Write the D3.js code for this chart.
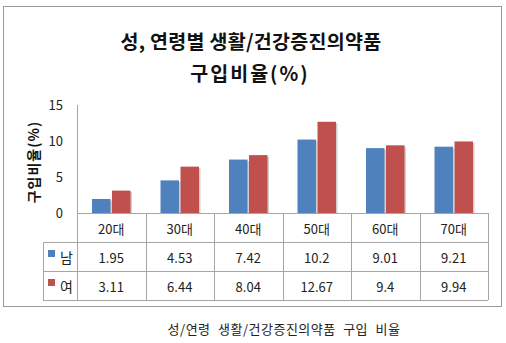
<!DOCTYPE html>
<html><head><meta charset="utf-8">
<script src="https://cdn.jsdelivr.net/npm/d3@7"></script>
<style>body{margin:0;background:#fff}svg{display:block}text{font-family:"Noto Sans CJK KR","Noto Sans",sans-serif}</style>
</head><body><svg id="c" width="506" height="343"></svg>
<script>
const categories = ["20대","30대","40대","50대","60대","70대"];
const seriesNames = ["남","여"];
const male = [1.95,4.53,7.42,10.2,9.01,9.21];
const female = [3.11,6.44,8.04,12.67,9.4,9.94];
const maleLabels = ["1.95","4.53","7.42","10.2","9.01","9.21"];
const femaleLabels = ["3.11","6.44","8.04","12.67","9.4","9.94"];
const yTicks = [0,5,10,15];
const colors = ["#4F81BD","#C0504D"];
const titleLines = ["성, 연령별 생활/건강증진의약품","구입비율(%)"];
const yTitle = "구입비율(%)";
const caption = "성/연령 생활/건강증진의약품 구입 비율";

const svg = d3.select("#c");
const grid = "#a6a6a6";
svg.append("rect").attr("x",3.5).attr("y",6.5).attr("width",498).attr("height",300)
  .attr("fill","#fff").attr("stroke","#9a9a9a").attr("stroke-width",1);

svg.selectAll(".title").data(titleLines).join("text")
  .attr("x",(d,i)=>i===0?251:250).attr("y",(d,i)=>40+i*32).attr("text-anchor","middle").attr("dominant-baseline","central")
  .attr("font-size",19.5).attr("font-weight","bold").attr("fill","#111")
  .attr("letter-spacing",(d,i)=>i===0?0.3:2).text(d=>d);

const x = d3.scaleBand().domain(categories).range([77,488]);
const xs = d3.scaleBand().domain(seriesNames).range([0,x.bandwidth()]).paddingInner(0.075).paddingOuter(0.75);
const y = d3.scaleLinear().domain([0,15]).range([213,105]);

// y axis
const yAxis = d3.axisLeft(y).tickValues(yTicks).tickSize(0).tickPadding(14);
const gy = svg.append("g").attr("transform","translate(77,0)").call(yAxis);
gy.select(".domain").remove();
gy.selectAll("text").attr("font-size",13).attr("fill","#222").attr("font-family","'DejaVu Sans',sans-serif");
svg.append("line").attr("x1",77.5).attr("x2",77.5).attr("y1",105).attr("y2",300).attr("stroke",grid);

svg.append("text").attr("transform","translate(33,162) rotate(-90)").attr("text-anchor","middle")
  .attr("dominant-baseline","central").attr("font-size",14).attr("font-weight","bold").attr("fill","#111")
  .attr("letter-spacing",1).text(yTitle);

// bars
const data = [male,female];
data.forEach((vals,si)=>{
  const g = svg.append("g");
  g.selectAll("rect.sh").data(vals).join("rect")
    .attr("x",(d,i)=>x(categories[i])+xs(seriesNames[si])+1.5).attr("y",d=>y(d)+1.5)
    .attr("width",xs.bandwidth()).attr("height",d=>y(0)-y(d)-1.5).attr("fill","#d0d0d0");
  g.selectAll("rect.b").data(vals).join("rect")
    .attr("x",(d,i)=>x(categories[i])+xs(seriesNames[si])).attr("y",d=>y(d))
    .attr("width",xs.bandwidth()).attr("height",d=>y(0)-y(d)).attr("fill",colors[si]);
});

// table
svg.append("line").attr("x1",77).attr("x2",488).attr("y1",213.5).attr("y2",213.5).attr("stroke",grid);
[242,271,300].forEach(yy=>svg.append("line").attr("x1",43).attr("x2",488).attr("y1",yy+0.5).attr("y2",yy+0.5).attr("stroke",grid));
svg.append("line").attr("x1",43.5).attr("x2",43.5).attr("y1",242).attr("y2",300).attr("stroke",grid);
categories.forEach(c=>{
  const xx = Math.round(x(c)+x.bandwidth())+0.5;
  svg.append("line").attr("x1",xx).attr("x2",xx).attr("y1",213).attr("y2",300).attr("stroke",grid);
});
svg.selectAll(".hdr").data(categories).join("text")
  .attr("x",d=>x(d)+x.bandwidth()/2).attr("y",228).attr("text-anchor","middle").attr("dominant-baseline","central")
  .attr("font-size",13).attr("fill","#222").text(d=>d);
[maleLabels,femaleLabels].forEach((labs,si)=>{
  svg.selectAll(".v"+si).data(labs).join("text")
    .attr("x",(d,i)=>x(categories[i])+x.bandwidth()/2).attr("y",257+si*29).attr("text-anchor","middle")
    .attr("dominant-baseline","central").attr("font-size",13).attr("fill","#222")
    .attr("font-family","'DejaVu Sans',sans-serif").text(d=>d);
  svg.append("rect").attr("x",48).attr("y",250+si*29).attr("width",7).attr("height",7).attr("fill",colors[si]);
  svg.append("text").attr("x",60).attr("y",257+si*29).attr("dominant-baseline","central")
    .attr("font-size",14).attr("fill","#222").text(seriesNames[si]);
});

svg.append("text").attr("x",284).attr("y",328).attr("text-anchor","middle").attr("dominant-baseline","central")
  .attr("font-size",13).attr("fill","#222").attr("word-spacing",4).attr("letter-spacing",0.5).text(caption);
</script></body></html>
